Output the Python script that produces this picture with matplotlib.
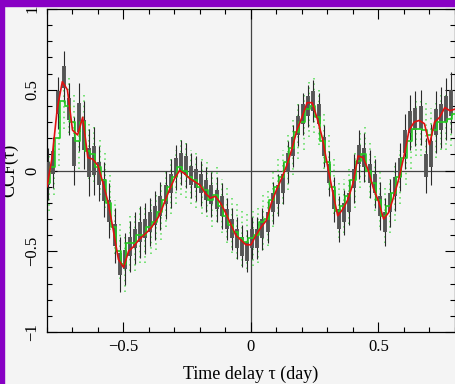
import numpy as np
from matplotlib import pyplot as plt
from matplotlib.patches import Rectangle

# smoothed CCF (red), sampled every 0.02 day from -0.80 to 0.80
tau_red = np.round(np.arange(-0.80, 0.801, 0.02), 3)
ccf_red = [-0.10, 0.08, 0.38, 0.55, 0.50, 0.25, 0.22, 0.33, 0.08, 0.07,
           0.03, -0.08, -0.20, -0.37, -0.55, -0.60, -0.50, -0.47, -0.43, -0.40,
           -0.37, -0.33, -0.28, -0.20, -0.12, -0.05, 0.00, -0.02, -0.05, -0.07,
           -0.09, -0.14, -0.17, -0.16, -0.20, -0.26, -0.33, -0.40, -0.43, -0.46,
           -0.46, -0.40, -0.35, -0.31, -0.20, -0.12, -0.05, 0.03, 0.13, 0.25,
           0.33, 0.42, 0.42, 0.32, 0.20, 0.03, -0.13, -0.28, -0.24, -0.18,
           -0.08, 0.09, 0.08, 0.00, -0.11, -0.19, -0.30, -0.26, -0.16, -0.05,
           0.09, 0.25, 0.30, 0.31, 0.29, 0.16, 0.30, 0.33, 0.39, 0.37, 0.38]

# binned CCF (green step + dotted error bars), same grid
ccf_green = [-0.08, 0.02, 0.20, 0.43, 0.40, 0.30, 0.18, 0.30, 0.12, 0.10,
             0.02, -0.06, -0.20, -0.35, -0.50, -0.58, -0.45, -0.45, -0.40, -0.40,
             -0.35, -0.32, -0.26, -0.18, -0.10, -0.04, 0.02, 0.00, -0.04, -0.06,
             -0.10, -0.12, -0.18, -0.15, -0.22, -0.28, -0.34, -0.38, -0.42, -0.44,
             -0.42, -0.40, -0.32, -0.30, -0.18, -0.10, -0.04, 0.05, 0.14, 0.24,
             0.30, 0.38, 0.40, 0.33, 0.18, 0.05, -0.10, -0.25, -0.22, -0.16,
             -0.06, 0.06, 0.10, 0.00, -0.08, -0.18, -0.28, -0.22, -0.14, -0.04,
             0.08, 0.18, 0.26, 0.26, 0.25, 0.22, 0.25, 0.30, 0.30, 0.32, 0.35]

# discrete CCF points (black), every 0.02 day from -0.795 to 0.785
tau_blk = np.round(np.arange(-0.795, 0.79, 0.02), 3)
ccf_blk = [-0.02, 0.05, 0.42, 0.58, 0.38, 0.12, 0.33, 0.22, 0.05, 0.06,
           -0.02, -0.12, -0.25, -0.40, -0.58, -0.55, -0.47, -0.42, -0.38, -0.36,
           -0.32, -0.28, -0.22, -0.15, -0.08, 0.02, 0.05, 0.03, -0.03, -0.05,
           -0.08, -0.12, -0.15, -0.18, -0.22, -0.30, -0.36, -0.42, -0.47, -0.50,
           -0.42, -0.42, -0.36, -0.32, -0.20, -0.15, -0.08, 0.05, 0.15, 0.28,
           0.35, 0.40, 0.43, 0.35, 0.15, -0.02, -0.18, -0.30, -0.26, -0.20,
           -0.05, 0.10, 0.08, -0.02, -0.08, -0.22, -0.32, -0.20, -0.10, 0.02,
           0.18, 0.30, 0.32, 0.33, 0.03, 0.10, 0.30, 0.33, 0.38, 0.42]
# error half-lengths per 0.1-day segment (5 points each)
err_seg = [0.16, 0.21, 0.17, 0.16, 0.15, 0.14, 0.14, 0.13,
           0.13, 0.13, 0.13, 0.14, 0.15, 0.15, 0.17, 0.19]
box_seg = [0.07, 0.09, 0.07, 0.06, 0.06, 0.06, 0.06, 0.06,
           0.06, 0.06, 0.06, 0.06, 0.06, 0.06, 0.07, 0.08]
err_blk = np.repeat(err_seg, 5)
box_blk = np.repeat(box_seg, 5)

plt.rcParams['font.family'] = ['Liberation Serif', 'DejaVu Serif']
plt.rcParams['axes.unicode_minus'] = True

fig = plt.figure(figsize=(4.56, 3.84), dpi=100, facecolor='#f4f4f4')
ax = fig.add_axes([47/456, 52/384, 408/456, 323/384])
ax.set_facecolor('#f4f4f4')

# purple frame on top and left
fig.patches.append(Rectangle((0, 378/384), 1, 6/384, transform=fig.transFigure,
                             color='#8800c4', zorder=10))
fig.patches.append(Rectangle((0, 0), 4/456, 1, transform=fig.transFigure,
                             color='#8800c4', zorder=10))

ax.axhline(0, color='#444444', lw=0.9, zorder=1)
ax.axvline(0, color='#444444', lw=0.9, zorder=1)

g = np.array(ccf_green)
ax.vlines(tau_red + 0.006, g - 0.17, g + 0.17, colors='#55dd55',
          linestyles=(0, (1, 2.5)), lw=1.1, zorder=2)

b = np.array(ccf_blk)
ax.vlines(tau_blk, b - err_blk, b + err_blk, colors='#2a2a2a', lw=0.8, zorder=3)
ax.vlines(tau_blk, b - box_blk, b + box_blk, colors='#555555', lw=2.8, zorder=3)

ax.plot(tau_red, ccf_green, drawstyle='steps-mid', color='#22cc22', lw=1.2, zorder=4)
ax.plot(tau_red, ccf_red, color='#e01010', lw=1.2, zorder=5)

ax.set_xlim(-0.8, 0.8)
ax.set_ylim(-1, 1)
ax.set_xticks([-0.5, 0, 0.5])
ax.set_xticklabels(['\u22120.5', '0', '0.5'])
ax.set_yticks([-1, -0.5, 0, 0.5, 1])
ax.set_yticklabels(['\u22121', '\u22120.5', '0', '0.5', '1'], rotation=90, va='center')
ax.set_xticks(np.arange(-0.8, 0.81, 0.1), minor=True)
ax.set_yticks(np.arange(-1, 1.01, 0.1), minor=True)
ax.tick_params(which='both', direction='in', top=True, right=True,
               labelsize=12, width=0.8, pad=5)
ax.tick_params(which='major', length=7)
ax.tick_params(which='minor', length=3.5)
for s in ax.spines.values():
    s.set_linewidth(0.9)

ax.set_xlabel('Time delay \u03c4 (day)', fontsize=13, labelpad=8)
ax.set_ylabel('CCF(\u03c4)', fontsize=13, labelpad=4)

plt.savefig('out.png', dpi=100, facecolor=fig.get_facecolor())
